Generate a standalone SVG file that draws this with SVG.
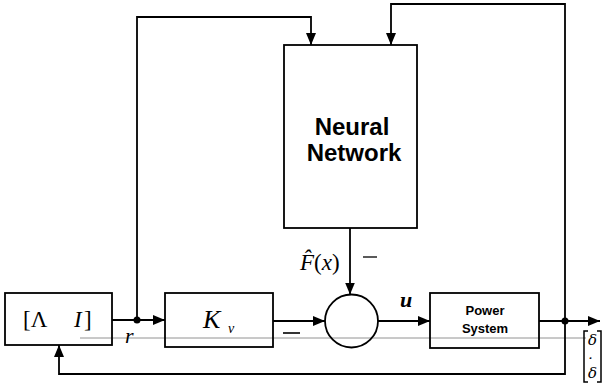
<svg xmlns="http://www.w3.org/2000/svg" width="602" height="383" viewBox="0 0 602 383">
<style>
.box{fill:none;stroke:#000;stroke-width:1.8}
.ln{fill:none;stroke:#000;stroke-width:1.8}
.t{font-family:"Liberation Serif",serif;fill:#000}
.d{font-family:"DejaVu Serif",serif;fill:#000;font-style:italic;text-anchor:middle}
.s{font-family:"Liberation Sans",sans-serif;font-weight:bold;fill:#000;text-anchor:middle}
</style>
<defs>
<marker id="ah" viewBox="0 0 12 10" refX="12" refY="5" markerWidth="12" markerHeight="10" markerUnits="userSpaceOnUse" orient="auto">
<path d="M0,0 L12,5 L0,10 Z" fill="#000"/>
</marker>
</defs>
<rect width="602" height="383" fill="#fff"/>
<line x1="80" y1="338" x2="586" y2="338" stroke="#777" stroke-width="0.8"/>
<g id="lambda">
<rect class="box" x="5" y="293" width="107" height="52"/>
<text class="t" x="23" y="327" font-size="23">[Λ</text>
<text class="t" x="74" y="327" font-size="23" font-style="italic">I</text>
<text class="t" x="84" y="327" font-size="23">]</text>
</g>
<g id="kv">
<rect class="box" x="165" y="293" width="108" height="54"/>
<text class="t" x="203" y="328" font-size="26" font-style="italic">K</text>
<text class="t" x="228" y="333" font-size="14" font-style="italic">v</text>
</g>
<g id="nn">
<rect class="box" x="284" y="45" width="133" height="183"/>
<text class="s" x="352" y="135" font-size="24">Neural</text>
<text class="s" x="354" y="161" font-size="24">Network</text>
</g>
<g id="sum">
<circle class="box" cx="351.5" cy="321" r="26.5"/>
</g>
<g id="plant">
<rect class="box" x="430" y="293" width="109" height="55"/>
<text class="s" x="485" y="315" font-size="13">Power</text>
<text class="s" x="485" y="333" font-size="13">System</text>
</g>
<g id="connectors">
<line class="ln" x1="112" y1="320" x2="165" y2="320" marker-end="url(#ah)"/>
<polyline class="ln" points="137,320 137,17 311,17 311,45" marker-end="url(#ah)"/>
<line class="ln" x1="273" y1="321" x2="325" y2="321" marker-end="url(#ah)"/>
<line class="ln" x1="350" y1="228" x2="350" y2="294.5" marker-end="url(#ah)"/>
<line class="ln" x1="378" y1="321" x2="430" y2="321" marker-end="url(#ah)"/>
<line class="ln" x1="539" y1="321" x2="600" y2="321" marker-end="url(#ah)"/>
<polyline class="ln" points="565,321 565,4 391,4 391,45" marker-end="url(#ah)"/>
<polyline class="ln" points="565,321 565,374 59,374 59,345" marker-end="url(#ah)"/>
<circle cx="137" cy="320" r="3.5" fill="#000"/>
<circle cx="565" cy="321" r="3.5" fill="#000"/>
</g>
<g id="labels">
<text class="t" x="125" y="343" font-size="22" font-style="italic">r</text>
<text class="t" x="400" y="307" font-size="22" font-style="italic" font-weight="bold">u</text>
<text class="t" x="300" y="270" font-size="23"><tspan font-style="italic">F̂</tspan>(<tspan font-style="italic">x</tspan>)</text>
<line x1="363" y1="257" x2="377" y2="257" stroke="#000" stroke-width="1.3"/>
<line x1="283" y1="333" x2="300" y2="333" stroke="#000" stroke-width="1.6"/>
<path d="M588,331 H584 V382 H588 M597,331 H601 V382 H597" fill="none" stroke="#000" stroke-width="1.5"/>
<text class="d" x="592.5" y="345" font-size="15">δ</text>
<text class="d" x="590.5" y="361" font-size="10" font-weight="bold">·</text>
<text class="d" x="592.5" y="378" font-size="15">δ</text>
</g>
</svg>
